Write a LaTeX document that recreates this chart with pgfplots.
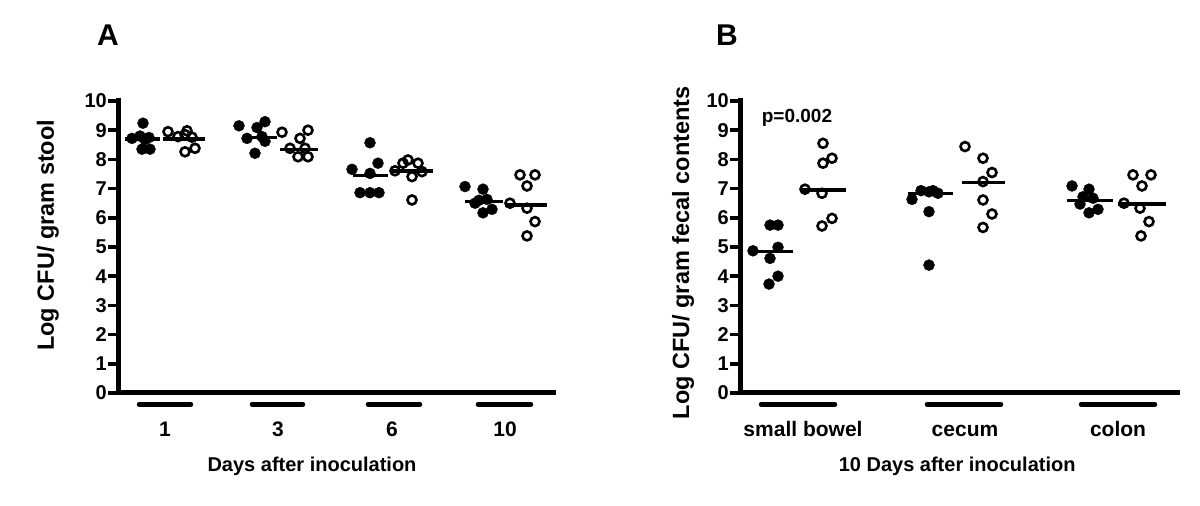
\documentclass[border=0pt]{standalone}
\usepackage{fontspec}
\setmainfont{Liberation Sans}
\usepackage{pgfplots}
\pgfplotsset{compat=1.18}
\pgfplotsset{
  myaxis/.style={
    x=1pt, y=29.2pt,
    xmin=0, ymin=0, ymax=10,
    enlargelimits=false,
    axis x line=bottom, axis y line=left,
    axis line style={-, line width=5pt, black, line cap=rect},
    every outer x axis line/.append style={-, line width=5pt, black},
    every outer y axis line/.append style={-, line width=5pt, black},
    clip=false,
    ytick={0,1,...,10},
    tick align=outside,
    major tick length=10pt,
    ytick style={line width=3.5pt, black},
    xtick style={draw=none},
    /pgf/number format/assume math mode=true,
    yticklabel style={font=\fontsize{20pt}{20pt}\bfseries\selectfont, inner xsep=1pt},
    xticklabel style={font=\fontsize{21pt}{21pt}\bfseries\selectfont, text height=15pt, text depth=0pt, yshift=-15pt},
    label style={font=\fontsize{20pt}{20pt}\bfseries\selectfont},
    ylabel style={font=\fontsize{23.5pt}{23.5pt}\bfseries\selectfont},
    anchor=south west,
  },
  fdot/.style={only marks, mark=*, mark size=5.5pt, black},
  odot/.style={only marks, mark=o, mark size=4.5pt, black, mark options={line width=2.6pt}},
  med/.style={black, line width=3.2pt, no markers},
  grp/.style={black, line width=4.5pt, no markers, line cap=round},
}
\begin{document}
\begin{tikzpicture}
\useasboundingbox (0,0) rectangle (1200pt,506pt);
% ---------------- Panel A ----------------
\begin{axis}[myaxis, at={(118pt,113pt)}, xmax=435,
  xtick={47,160,274,387}, xticklabels={1,3,6,10},
  xlabel={Days after inoculation},
  xlabel style={at={(axis description cs:0.446,-0.25)}, anchor=center},
  ylabel={Log CFU/ gram stool},
  ylabel style={at={(axis description cs:-0.161,0.54)}, anchor=center},
]
\addplot[fdot] coordinates {
 (14,8.72) (22,8.8) (25,9.24) (31,8.75) (27,8.68) (24,8.35) (32,8.35)
 (121,9.15) (147,9.29) (139,9.09) (129,8.72) (144,8.78) (147,8.62) (137,8.21)
 (252,8.57) (234,7.66) (260,7.87) (252,7.52) (242,6.86) (252,6.86) (261,6.86)
 (347,7.07) (365,6.98) (357,6.5) (369,6.63) (374,6.29) (365,6.17) (361,6.6)
};
\addplot[odot] coordinates {
 (50,8.95) (69,8.98) (60,8.78) (67,8.85) (74,8.76) (67,8.26) (77,8.38)
 (164,8.93) (190,9.0) (182,8.72) (172,8.38) (187,8.38) (180,8.09) (190,8.09)
 (277,7.61) (285,7.87) (290,7.98) (300,7.87) (304,7.58) (294,7.41) (294,6.61)
 (402,7.47) (417,7.47) (409,7.09) (392,6.5) (409,6.33) (417,5.87) (409,5.38)
};
\addplot[med] coordinates {(7,8.7) (42,8.7)};
\addplot[med] coordinates {(45,8.7) (87,8.7)};
\addplot[med] coordinates {(125,8.76) (159,8.76)};
\addplot[med] coordinates {(162,8.33) (200,8.33)};
\addplot[med] coordinates {(235,7.45) (270,7.45)};
\addplot[med] coordinates {(273,7.6) (315,7.6)};
\addplot[med] coordinates {(347,6.57) (385,6.57)};
\addplot[med] coordinates {(387,6.44) (429,6.44)};
\addplot[grp] coordinates {(21,-0.39) (73,-0.39)};
\addplot[grp] coordinates {(134,-0.39) (185,-0.39)};
\addplot[grp] coordinates {(250,-0.39) (302,-0.39)};
\addplot[grp] coordinates {(360,-0.39) (413,-0.39)};
\node[font=\fontsize{30pt}{30pt}\bfseries\selectfont] at (axis cs:-10,12.26) {A};
\end{axis}
% ---------------- Panel B ----------------
\begin{axis}[myaxis, at={(740pt,113pt)}, xmax=437,
  xtick={63,225,378}, xticklabels={small bowel,cecum,colon},
  xlabel={10 Days after inoculation},
  xlabel style={at={(axis description cs:0.497,-0.25)}, anchor=center},
  ylabel={Log CFU/ gram fecal contents},
  ylabel style={at={(axis description cs:-0.130,0.48)}, anchor=center},
]
\addplot[fdot] coordinates {
 (30,5.75) (38,5.75) (13,4.87) (38,4.99) (30,4.61) (38,4.0) (29,3.73)
 (172,6.63) (181,6.93) (189,6.89) (193,6.93) (198,6.84) (189,6.21) (189,4.38)
 (332,7.09) (349,6.98) (343,6.72) (353,6.67) (340,6.47) (358,6.29) (349,6.17)
};
\addplot[odot] coordinates {
 (83,8.55) (92,8.04) (83,7.87) (65,6.98) (82,6.84) (92,5.98) (82,5.72)
 (225,8.44) (243,8.04) (252,7.55) (243,7.24) (243,6.61) (252,6.13) (243,5.67)
 (393,7.47) (411,7.47) (402,7.09) (384,6.5) (400,6.33) (409,5.87) (401,5.38)
};
\addplot[med] coordinates {(8,4.84) (53,4.84)};
\addplot[med] coordinates {(60,6.95) (106,6.95)};
\addplot[med] coordinates {(168,6.84) (213,6.84)};
\addplot[med] coordinates {(222,7.22) (265,7.22)};
\addplot[med] coordinates {(327,6.59) (373,6.59)};
\addplot[med] coordinates {(378,6.47) (426,6.47)};
\addplot[grp] coordinates {(21,-0.39) (95,-0.39)};
\addplot[grp] coordinates {(187,-0.39) (261,-0.39)};
\addplot[grp] coordinates {(341,-0.39) (415,-0.39)};
\node[font=\fontsize{19pt}{19pt}\bfseries\selectfont] at (axis cs:57,9.42) {p=0.002};
\node[font=\fontsize{30pt}{30pt}\bfseries\selectfont] at (axis cs:-13,12.26) {B};
\end{axis}
\end{tikzpicture}
\end{document}
